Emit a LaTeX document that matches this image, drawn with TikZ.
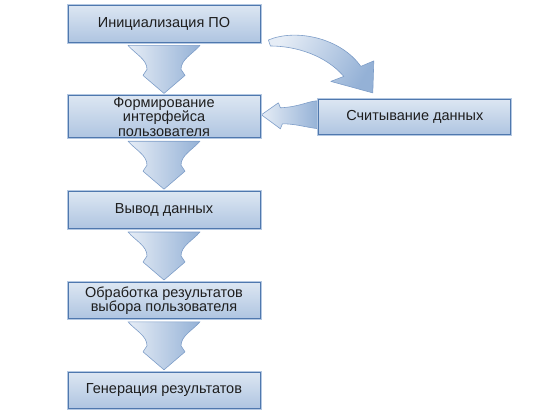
\documentclass[tikz,border=0pt]{standalone}
\usepackage{fontspec}
\setmainfont{Liberation Sans}
\usetikzlibrary{backgrounds,calc,positioning}
\definecolor{Ink}{HTML}{1E1E1E}
\definecolor{BoxTop}{HTML}{DCE6F2}
\definecolor{BoxBottom}{HTML}{AFC5E1}
\definecolor{BoxEdge}{HTML}{4F78AE}
\definecolor{BoxOuter}{HTML}{B4C8E2}
\definecolor{ArrowLight}{HTML}{E6EDF6}
\definecolor{ArrowDark}{HTML}{94B1D6}
\definecolor{ArrowEdge}{HTML}{7D9DC8}
\tikzset{
  stage/.style={
    preaction={draw=BoxOuter, line width=3pt},
    draw=BoxEdge, line width=0.8pt, top color=BoxTop, bottom color=BoxBottom,
    minimum width=192pt, minimum height=37pt, inner sep=0pt, align=center,
    text=Ink, font=\fontsize{14.5}{14.3}\selectfont
  },
  blockarrow/.style={
    draw=ArrowEdge, line width=0.6pt, line join=round,
    left color=ArrowLight, right color=ArrowDark
  }
}

\begin{document}
\begin{tikzpicture}[x=1pt,y=1pt,node distance=53pt]
    \useasboundingbox (0,0) rectangle (548,-415);
    \node[stage] (init) at (164,-23.5) {Инициализация ПО};
    \node[stage,below=of init,minimum height=42pt] (form) {Формирование\\интерфейса\\пользователя};
    \node[stage,below=of form] (out) {Вывод данных};
    \node[stage,below=of out,minimum height=36pt] (proc) {Обработка результатов\\выбора пользователя};
    \node[stage,below=of proc,minimum height=36pt] (gen) {Генерация результатов};
    \node[stage,right=58pt of form,minimum height=35pt] (read) {Считывание данных};
    \begin{scope}[on background layer]
    % fat arrows down the column
    \foreach \a/\b in {init/form,form/out,out/proc,proc/gen}
      \draw[blockarrow] ($(\a.south)+(-36,-3)$) -- ($(\a.south)+(36,-3)$)
        .. controls ($(\a.south)+(28,-12)$) and ($(\a.south)+(17,-17)$) .. ($(\a.south)+(17,-27)$)
        -- ($(\a.south)+(21,-33)$) -- ($(\b.north)+(0,2)$)
        -- ($(\a.south)+(-21,-33)$) -- ($(\a.south)+(-17,-27)$)
        .. controls ($(\a.south)+(-17,-17)$) and ($(\a.south)+(-28,-12)$) .. cycle;
    % curved arrow to the side box
    \draw[blockarrow,shading angle=60] ($(init.east)+(8,-16.5)$)
      .. controls ($(init.east)+(35,-5)$) and ($(init.east)+(80,-14)$) .. ($(read.north)+(-54,32.5)$)
      -- ($(read.north)+(-41,38)$) -- ($(read.north)+(-42,6)$)
      -- ($(read.north)+(-84,17.5)$) -- ($(read.north)+(-71,22.5)$)
      .. controls ($(init.east)+(65,-31.5)$) and ($(init.east)+(35,-22.5)$) .. ($(init.east)+(10,-22.5)$)
      -- cycle;
    % arrow back into the column
    \draw[blockarrow] ($(form.east)+(1,2)$) -- ($(form.east)+(18,14)$) -- ($(form.east)+(20,9)$)
      .. controls ($(form.east)+(40,10)$) and ($(read.west)+(-10,16)$) .. ($(read.west)+(0,16)$)
      -- ($(read.west)+(0,-12)$)
      .. controls ($(read.west)+(-15,-10)$) and ($(form.east)+(35,-7)$) .. ($(form.east)+(22,-7)$)
      -- ($(form.east)+(20,-12)$) -- cycle;
    \end{scope}
\end{tikzpicture}
\end{document}
